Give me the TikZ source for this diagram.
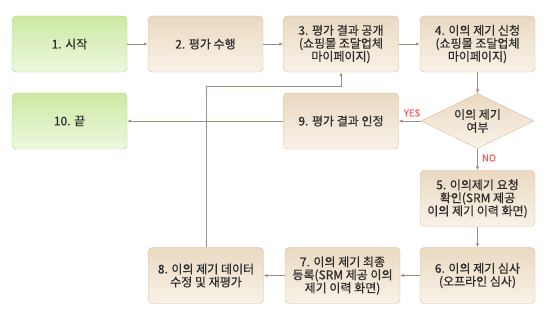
\documentclass[tikz,border=0pt]{standalone}
\usepackage{fontspec}
\setmainfont{Noto Sans CJK KR}[FakeBold=0.6]
\usetikzlibrary{arrows.meta,shapes.geometric}

\definecolor{greentop}{HTML}{CDE9A3}
\definecolor{greenbot}{HTML}{EDF8DE}
\definecolor{greenline}{HTML}{A9D18E}
\definecolor{tantop}{HTML}{EAD9C1}
\definecolor{tanbot}{HTML}{F9F2E8}
\definecolor{tanline}{HTML}{D3BE9E}
\definecolor{flowline}{HTML}{9E9080}
\definecolor{txt}{HTML}{2E2E2E}
\definecolor{yesno}{HTML}{FF5B5B}

\begin{document}
\begin{tikzpicture}[x=1pt,y=-1pt,
    box/.style={rounded corners=4pt, minimum width=115pt, minimum height=56pt,
      align=center, text=txt, font=\fontsize{12}{13}\selectfont, inner sep=2pt},
    greenbox/.style={box, draw=greenline, top color=greentop, bottom color=greenbot},
    tanbox/.style={box, draw=tanline, top color=tantop, bottom color=tanbot},
    decision/.style={diamond, aspect=2, inner sep=0pt, minimum width=113pt,
      minimum height=55pt, align=center, text=txt, draw=tanline,
      top color=tantop, bottom color=tanbot, font=\fontsize{12}{13}\selectfont},
    flow/.style={draw=flowline, line width=0.8pt, -{Latex[length=4pt,width=3.5pt]}},
    answer/.style={text=yesno, font=\fontsize{9.5}{10}\selectfont}]

    \useasboundingbox (0,0) rectangle (550,320);

    % Top row
    \node[greenbox] (start) at (69.5,44) {1. 시작};
    \node[tanbox] (eval) at (205.5,44) {2. 평가 수행};
    \node[tanbox] (publish) at (341,44) {3. 평가 결과 공개\\(쇼핑몰 조달업체\\마이페이지)};
    \node[tanbox] (apply) at (477.5,44) {4. 이의 제기 신청\\(쇼핑몰 조달업체\\마이페이지)};

    % Middle row
    \node[greenbox] (finish) at (69.5,121) {10. 끝};
    \node[tanbox] (accept) at (341,121) {9. 평가 결과 인정};
    \node[decision] (check) at (477.5,121) {이의 제기\\여부};

    % Right column and bottom row
    \node[tanbox] (confirm) at (477.5,198.5) {5. 이의제기 요청\\확인(SRM 제공\\이의 제기 이력 화면)};
    \node[tanbox] (review) at (477.5,275.5) {6. 이의 제기 심사\\(오프라인 심사)};
    \node[tanbox] (register) at (342.5,275.5) {7. 이의 제기 최종\\등록(SRM 제공 이의\\제기 이력 화면)};
    \node[tanbox] (redo) at (206,275.5) {8. 이의 제기 데이터\\수정 및 재평가};

    \coordinate (turn) at (341,86);

    % Connectors
    \draw[flow] (start) -- (eval);
    \draw[flow] (eval) -- (publish);
    \draw[flow] (publish) -- (apply);
    \draw[flow] (apply) -- (check);
    \draw[flow] (check) -- (accept);
    \draw[flow] (accept) -- (finish);
    \draw[flow] (check) -- (confirm);
    \draw[flow] (confirm) -- (review);
    \draw[flow] (review) -- (register);
    \draw[flow] (register) -- (redo);
    \draw[flow] (redo.north) |- (turn) -- (publish.south);

    % Branch labels
    \node[answer] (yes) at (412,113) {YES};
    \node[answer] (no) at (489,158) {NO};

\end{tikzpicture}
\end{document}
